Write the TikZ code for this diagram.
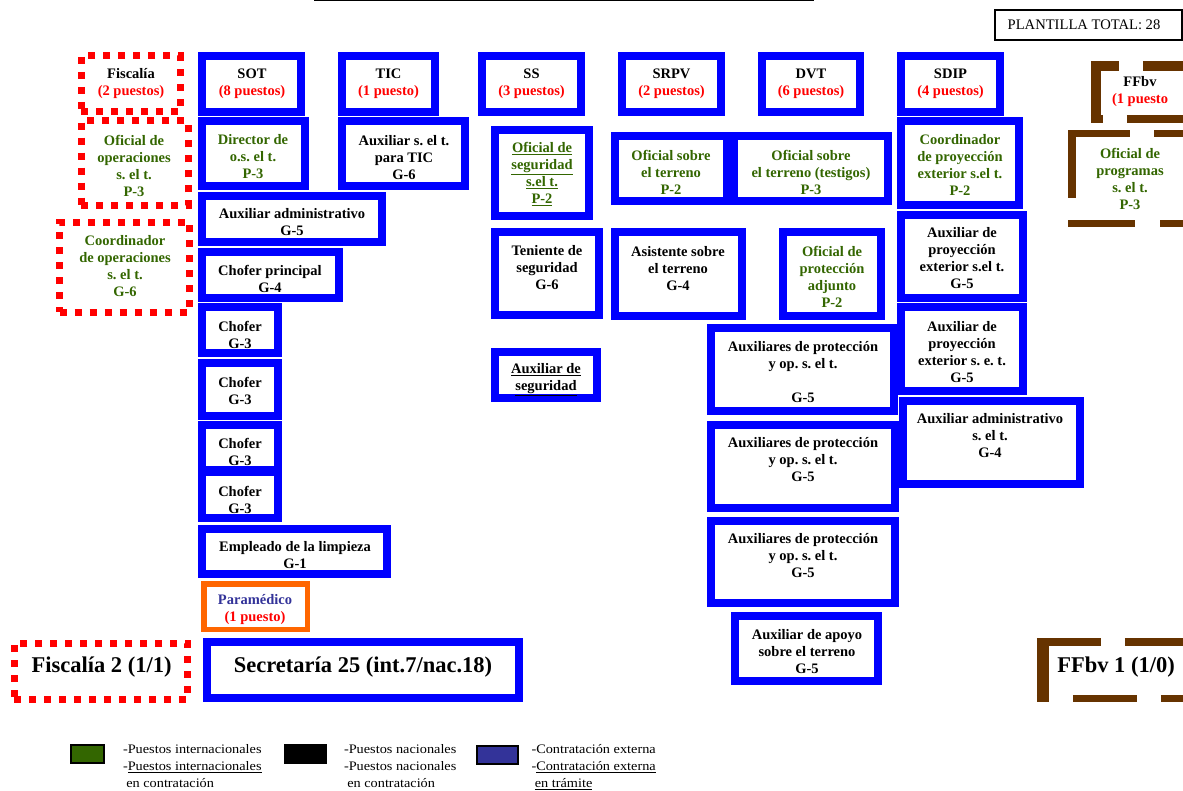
\documentclass[tikz,border=0pt]{standalone}
\usepackage{fontspec}
\setmainfont{Liberation Serif}
\usepackage{graphicx}
\frenchspacing

\definecolor{boxblue}{RGB}{0,0,255}
\definecolor{intgreen}{RGB}{51,102,0}
\definecolor{ffbrown}{RGB}{102,51,0}
\definecolor{extblue}{RGB}{51,51,153}
\definecolor{paraorange}{RGB}{255,102,0}
\definecolor{vacred}{RGB}{255,0,0}

\tikzset{
  bluebox/.style={draw=boxblue, line width=8pt, fill=white, inner sep=0pt, outer sep=0pt},
  redbox/.style={draw=vacred, line width=7pt, dash pattern=on 7pt off 8pt, inner sep=0pt, outer sep=0pt},
  brownedge/.style={draw=ffbrown, line width=8pt},
  txt/.style={font=\bfseries\fontsize{14.5}{17}\selectfont, align=center, inner sep=0pt},
  intl/.style={txt, text=intgreen},
  big/.style={font=\bfseries\fontsize{22.5}{26}\selectfont, inner sep=0pt},
  legtxt/.style={font=\fontsize{13}{16.7}\selectfont, inner sep=0pt, anchor=west},
  swatch/.style={draw=black, line width=2pt, minimum width=33pt, minimum height=18pt, inner sep=0pt},
}

% blue post box from its outer corners (x1,y1) to (x2,y2)
\newcommand\bluebx[5]{%
  \pgfmathsetmacro\bxw{#4-#2-8}%
  \pgfmathsetmacro\bxh{#5-#3-8}%
  \node[bluebox, minimum width=\bxw pt, minimum height=\bxh pt] (#1) at ({(#2+#4)/2},{(#3+#5)/2}) {};}
\newcommand\vac[1]{\textcolor{vacred}{#1}}

\begin{document}
\begin{tikzpicture}[x=1pt, y=-1pt]
\useasboundingbox (0,0) rectangle (1183,791);

% title rule and total
\coordinate (rule-l) at (314,0.5);
\coordinate (rule-r) at (814,0.5);
\draw[line width=2pt] (rule-l) -- (rule-r);
\node[draw, line width=2pt, minimum width=187pt, minimum height=30pt, inner sep=0pt] (plant) at (1088.5,25) {};
\node[font=\fontsize{14.6}{17}\selectfont, inner sep=0pt] (plant-t) at (1084,25) {PLANTILLA TOTAL: 28};

% ---- Fiscalía column (dotted red)
\node[redbox, minimum width=99pt, minimum height=56pt] (fisc) at (130.7,84) {};
\node[txt] (fisc-t) at (131,83.5) {Fiscalía\\\vac{(2 puestos)}};
\node[redbox, minimum width=107pt, minimum height=84.4pt] (ofop) at (134.5,163.2) {};
\node[intl] (ofop-t) at (134,165.5) {Oficial de\\operaciones\\s. el t.\\P-3};
\node[redbox, minimum width=129.8pt, minimum height=90.3pt] (coordop) at (124.6,267.2) {};
\node[intl] (coordop-t) at (125,266) {Coordinador\\de operaciones\\s. el t.\\G-6};
\node[redbox, minimum width=173.5pt, minimum height=56pt] (fisc2) at (101.2,671) {};
\node[big] (fisc2-t) at (101.5,667) {Fiscalía 2 (1/1)};

% ---- SOT column
\bluebx{sot}{198}{52}{305}{116}
\node[txt] (sot-t) at (252,83.5) {SOT\\\vac{(8 puestos)}};
\bluebx{dir}{198}{117}{309}{190}
\node[intl] (dir-t) at (253,157) {Director de\\o.s. el t.\\P-3};
\bluebx{auxadm}{198}{192}{386}{246}
\node[txt] (auxadm-t) at (292,222.5) {Auxiliar administrativo\\G-5};
\bluebx{chprin}{198}{248}{343}{302}
\node[txt] (chprin-t) at (270,278.5) {Chofer principal\\G-4};
\bluebx{ch1}{198}{303}{282}{357}
\node[txt] (ch1-t) at (240,335) {Chofer\\G-3};
\bluebx{ch2}{198}{359}{282}{420}
\node[txt] (ch2-t) at (240,390.5) {Chofer\\G-3};
\bluebx{ch3}{198}{421}{282}{474}
\node[txt] (ch3-t) at (240,451.5) {Chofer\\G-3};
\bluebx{ch4}{198}{468}{282}{522}
\node[txt] (ch4-t) at (240,499.5) {Chofer\\G-3};
\bluebx{limp}{198}{525}{391}{578}
\node[txt] (limp-t) at (295,555.5) {Empleado de la limpieza\\G-1};
\node[draw=paraorange, line width=5.5pt, fill=white, inner sep=0pt, minimum width=103.5pt, minimum height=45.5pt] (para) at (255.5,606.5) {};
\node[txt] (para-t) at (255,609.5) {\textcolor{extblue}{Paramédico}\\\vac{(1 puesto)}};
\bluebx{secr}{203}{638}{523}{702}
\node[big] (secr-t) at (363,667) {Secretaría 25 (int.7/nac.18)};

% ---- TIC column
\bluebx{tic}{338}{52}{439}{116}
\node[txt] (tic-t) at (388.5,83.5) {TIC\\\vac{(1 puesto)}};
\bluebx{auxtic}{338}{117}{469}{190}
\node[txt] (auxtic-t) at (404,157.5) {Auxiliar s. el t.\\para TIC\\G-6};

% ---- SS column
\bluebx{ss}{478}{52}{585}{116}
\node[txt] (ss-t) at (531.5,83.5) {SS\\\vac{(3 puestos)}};
\bluebx{ofseg}{491}{126}{593}{220}
\node[intl] (ofseg-t) at (542,174) {\underline{Oficial de}\\\underline{seguridad}\\\underline{s.el t.}\\\underline{P-2}};
\bluebx{ten}{491}{228}{603}{319}
\node[txt] (ten-t) at (547,268) {Teniente de\\seguridad\\G-6};
\bluebx{auxseg}{491}{348}{601}{402}
\node[txt] (auxseg-t) at (546,379.5) {\underline{Auxiliar de}\\\underline{seguridad}};

% ---- SRPV column
\bluebx{srpv}{618}{52}{725}{116}
\node[txt] (srpv-t) at (671.5,83.5) {SRPV\\\vac{(2 puestos)}};
\bluebx{ofter}{611}{132}{731}{205}
\node[intl] (ofter-t) at (671,172) {Oficial sobre\\el terreno\\P-2};
\bluebx{asis}{611}{228}{746}{320}
\node[txt] (asis-t) at (678,268.5) {Asistente sobre\\el terreno\\G-4};

% ---- DVT column
\bluebx{dvt}{758}{52}{864}{116}
\node[txt] (dvt-t) at (811,83.5) {DVT\\\vac{(6 puestos)}};
\bluebx{oftes}{730}{132}{892}{205}
\node[intl] (oftes-t) at (811,172) {Oficial sobre\\el terreno (testigos)\\P-3};
\bluebx{ofprot}{779}{228}{885}{320}
\node[intl] (ofprot-t) at (832,276.5) {Oficial de\\protección\\adjunto\\P-2};
\bluebx{ap1}{707}{324}{898}{415}
\node[txt] (ap1-t) at (803,372) {Auxiliares de protección\\y op. s. el t.\\[17pt]G-5};
\bluebx{ap2}{707}{421}{899}{512}
\node[txt] (ap2-t) at (803,460) {Auxiliares de protección\\y op. s. el t.\\G-5};
\bluebx{ap3}{707}{517}{899}{607}
\node[txt] (ap3-t) at (803,556) {Auxiliares de protección\\y op. s. el t.\\G-5};
\bluebx{apoyo}{731}{612}{882}{685}
\node[txt] (apoyo-t) at (807,651.5) {Auxiliar de apoyo\\sobre el terreno\\G-5};

% ---- SDIP column
\bluebx{sdip}{897}{52}{1004}{116}
\node[txt] (sdip-t) at (950.5,83.5) {SDIP\\\vac{(4 puestos)}};
\bluebx{coordpe}{897}{117}{1023}{209}
\node[intl] (coordpe-t) at (960,165) {Coordinador\\de proyección\\exterior s.el t.\\P-2};
\bluebx{auxpe1}{897}{211}{1027}{302}
\node[txt] (auxpe1-t) at (962,258) {Auxiliar de\\proyección\\exterior s.el t.\\G-5};
\bluebx{auxpe2}{897}{303}{1027}{395}
\node[txt] (auxpe2-t) at (962,352) {Auxiliar de\\proyección\\exterior s. e. t.\\G-5};
\bluebx{auxadm2}{899}{397}{1084}{488}
\node[txt] (auxadm2-t) at (990,436) {Auxiliar administrativo\\s. el t.\\G-4};

% ---- FFbv column (dashed brown, running off the right edge)
\node[inner sep=0pt, minimum width=93.7pt, minimum height=53pt] (ffbv) at (1143.15,92.5) {};
\draw[brownedge, line width=10pt, dash pattern=on 64pt off 24pt, dash phase=36pt] ([xshift=-5.3pt]ffbv.north west) -- (ffbv.north east);
\draw[brownedge, line width=8.3pt, dash pattern=on 64pt off 24pt, dash phase=52pt] ([xshift=-5.3pt]ffbv.south west) -- (ffbv.south east);
\draw[brownedge, line width=10.7pt] ([yshift=5pt]ffbv.north west) -- ([yshift=-4pt]ffbv.south west);
\node[txt] (ffbv-t) at (1140,91.5) {FFbv\\\vac{(1 puesto}};

\node[inner sep=0pt, minimum width=117.5pt, minimum height=89.3pt] (ofprog) at (1131.25,178.65) {};
\draw[brownedge, line width=7pt, dash pattern=on 64pt off 24pt, dash phase=2pt] ([xshift=-4.2pt]ofprog.north west) -- (ofprog.north east);
\draw[brownedge, line width=7pt, dash pattern=on 67pt off 25pt] ([xshift=-4.2pt]ofprog.south west) -- (ofprog.south east);
\draw[brownedge, line width=8.3pt, dash pattern=on 68pt off 24pt] ([yshift=3.5pt]ofprog.north west) -- ([yshift=-3.5pt]ofprog.south west);
\node[intl] (ofprog-t) at (1130,178.5) {Oficial de\\programas\\s. el t.\\P-3};

\node[inner sep=0pt, minimum width=147pt, minimum height=56pt] (ffbv1) at (1116.5,670) {};
\draw[brownedge, line width=7.7pt, dash pattern=on 64pt off 24pt] ([xshift=-6pt]ffbv1.north west) -- (ffbv1.north east);
\draw[brownedge, line width=7.3pt, dash pattern=on 64pt off 24pt, dash phase=52pt] ([xshift=-6pt]ffbv1.south west) -- (ffbv1.south east);
\draw[brownedge, line width=12pt] ([yshift=3.8pt]ffbv1.north west) -- ([yshift=-3.7pt]ffbv1.south west);
\node[big] (ffbv1-t) at (1116,667) {FFbv 1 (1/0)};

% ---- legend
\node[swatch, fill=intgreen] (lg-int) at (87.7,754) {};
\node[legtxt] (lg-int-t) at (122.8,767.3) {\scalebox{1.1}[1]{\begin{tabular}{@{}l@{}}-Puestos internacionales\\-\underline{Puestos internacionales}\\\hspace{3pt}en contratación\end{tabular}}};
\node[swatch, fill=black, minimum width=41pt] (lg-nat) at (305.8,754) {};
\node[legtxt] (lg-nat-t) at (343.8,767.3) {\scalebox{1.1}[1]{\begin{tabular}{@{}l@{}}-Puestos nacionales\\-Puestos nacionales\\\hspace{3pt}en contratación\end{tabular}}};
\node[swatch, fill=extblue, minimum width=40.5pt] (lg-ext) at (497.5,754.5) {};
\node[legtxt] (lg-ext-t) at (531.3,767.3) {\scalebox{1.1}[1]{\begin{tabular}{@{}l@{}}-Contratación externa\\-\underline{Contratación externa}\\\hspace{3pt}\underline{en trámite}\end{tabular}}};

\end{tikzpicture}
\end{document}
